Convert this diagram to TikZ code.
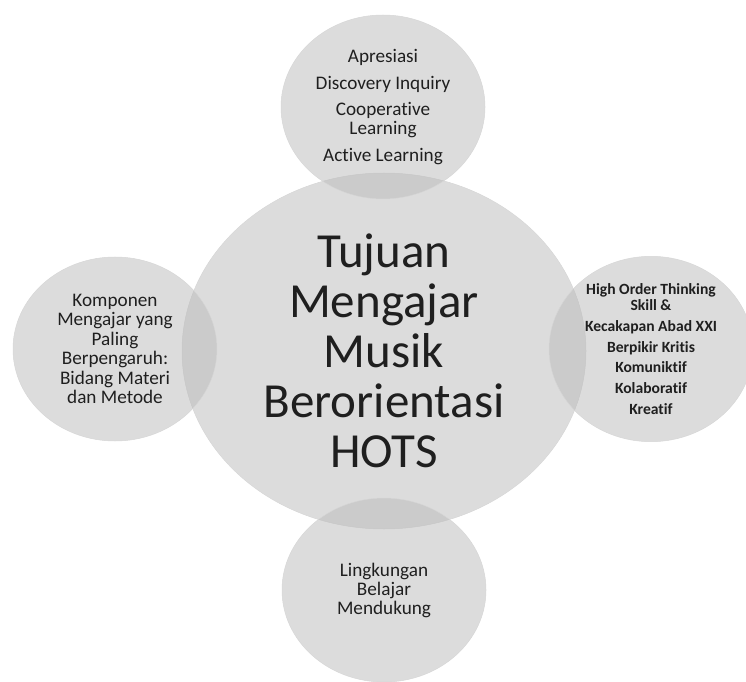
\documentclass[tikz,border=0pt]{standalone}
\usepackage{fontspec}
\setmainfont{Carlito}[Ligatures=NoCommon]
\usetikzlibrary{shapes.geometric}

\tikzset{
  bubble/.style={ellipse,draw=black!16,line width=0.5pt,fill=black!27,fill opacity=0.5,
    text opacity=1,text=black!88,inner sep=0pt,align=center,
    minimum width=204pt,minimum height=184pt},
}

\begin{document}
\begin{tikzpicture}
  \useasboundingbox (0,0) rectangle (746pt,681pt);

  \node [bubble,minimum width=404pt,minimum height=356pt,font=\fontsize{49}{50}\selectfont] (tujuan) at (384pt,330pt)
    {Tujuan\\Mengajar\\Musik\\Berorientasi\\HOTS};

  \node [bubble,above of=tujuan,node distance=244pt,xshift=-1pt,font=\fontsize{19.2}{18.7}\selectfont] (metode)
    {Apresiasi\\[9pt]Discovery Inquiry\\[7.5pt]Cooperative\\Learning\\[8.5pt]Active Learning};
  \node [bubble,left of=tujuan,node distance=269pt,yshift=2pt,font=\fontsize{19.2}{19.5}\selectfont] (komponen)
    {Komponen\\Mengajar yang\\Paling\\Berpengaruh:\\Bidang Materi\\dan Metode};
  \node [bubble,right of=tujuan,node distance=267pt,yshift=2pt,font=\bfseries\fontsize{15.6}{16}\selectfont] (hots)
    {High Order Thinking\\Skill \&\\[5pt]Kecakapan Abad XXI\\[5pt]Berpikir Kritis\\[4pt]Komuniktif\\[5pt]Kolaboratif\\[5pt]Kreatif};
  \node [bubble,below of=tujuan,node distance=239pt,font=\fontsize{19.2}{19}\selectfont] (lingkungan)
    {Lingkungan\\Belajar\\Mendukung};
\end{tikzpicture}
\end{document}
